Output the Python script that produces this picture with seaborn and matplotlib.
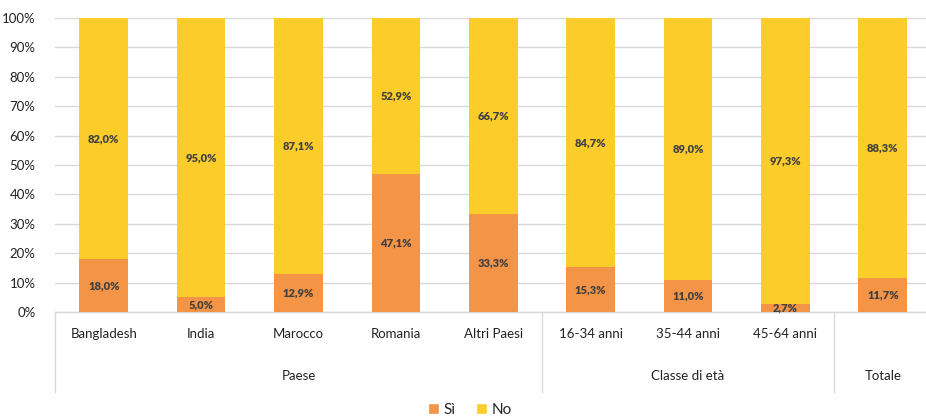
import matplotlib
matplotlib.use("Agg")
import matplotlib.pyplot as plt
import matplotlib.transforms as mtransforms
from matplotlib.patches import Patch
import seaborn as sns
import pandas as pd

categories = ["Bangladesh", "India", "Marocco", "Romania", "Altri Paesi",
              "16-34 anni", "35-44 anni", "45-64 anni", "Totale"]
tick_labels = ["Bangladesh", "India", "Marocco", "Romania", "Altri Paesi",
               "16-34 anni", "35-44 anni", "45-64 anni", ""]
si_values = [18.0, 5.0, 12.9, 47.1, 33.3, 15.3, 11.0, 2.7, 11.7]
no_values = [82.0, 95.0, 87.1, 52.9, 66.7, 84.7, 89.0, 97.3, 88.3]
groups = [("Paese", 0, 4), ("Classe di età", 5, 7), ("Totale", 8, 8)]
y_ticks = [0, 10, 20, 30, 40, 50, 60, 70, 80, 90, 100]

ORANGE = "#F39447"
YELLOW = "#FCCD2A"
TEXT = "#404040"

sns.set_theme(style="white")
plt.rcParams["font.family"] = ["Lato", "DejaVu Sans"]

df = pd.DataFrame({"cat": categories, "si": si_values, "no": no_values})

fig = plt.figure(figsize=(9.26, 4.2), dpi=100)
ax = fig.add_axes([55 / 926, 1 - 312 / 420, (931.5 - 55) / 926, (312 - 18) / 420])

sns.barplot(data=df, x="cat", y="si", color=ORANGE, width=0.5, saturation=1,
            ax=ax, linewidth=0, zorder=3)
sns.barplot(data=df, x="cat", y="no", color=YELLOW, width=0.5, saturation=1,
            ax=ax, linewidth=0, bottom=df["si"].values, zorder=3)

ax.set_ylim(0, 100)
ax.set_xlim(-0.5, len(categories) - 0.5)
ax.set_yticks(y_ticks)
ax.set_yticklabels([f"{t}%" for t in y_ticks], fontsize=9.5, color="#222222")
ax.yaxis.grid(True, color="#D9D9D9", linewidth=1.0, zorder=0)
ax.set_axisbelow(True)
ax.tick_params(axis="y", length=0, pad=14)
ax.tick_params(axis="x", length=0)
ax.set_xticks([])
ax.set_xlabel("")
ax.set_ylabel("")
for side in ["top", "right", "left"]:
    ax.spines[side].set_visible(False)
ax.spines["bottom"].set_color("#D9D9D9")
ax.spines["bottom"].set_linewidth(1.0)

# value labels in the middle of each segment
for i, (s, n) in enumerate(zip(si_values, no_values)):
    ax.text(i, s / 2, f"{s:.1f}%".replace(".", ","), ha="center", va="center",
            fontsize=8, fontweight="heavy", color=TEXT, zorder=5)
    ax.text(i, s + n / 2, f"{n:.1f}%".replace(".", ","), ha="center", va="center",
            fontsize=8, fontweight="heavy", color=TEXT, zorder=5)

# two-level category axis
trans = mtransforms.blended_transform_factory(ax.transData, ax.transAxes)
px = 1 / (312 - 18)
for i, c in enumerate(tick_labels):
    ax.text(i, -22 * px, c, transform=trans, ha="center", va="center",
            fontsize=9.5, color="#222222")
for name, a, b in groups:
    ax.text((a + b) / 2, -64 * px, name, transform=trans, ha="center",
            va="center", fontsize=9.5, color="#222222")
for xb in [-0.5, 4.5, 7.5, 8.5]:
    ax.plot([xb, xb], [0, -80 * px], transform=trans, color="#D9D9D9",
            linewidth=1.0, clip_on=False)

handles = [Patch(facecolor=ORANGE, label="Sì"), Patch(facecolor=YELLOW, label="No")]
fig.legend(handles=handles, loc="center", bbox_to_anchor=(470 / 926, 1 - 410 / 420),
           ncol=2, frameon=False, fontsize=11, handlelength=0.75,
           handleheight=0.75, handletextpad=0.3, columnspacing=1.3)

fig.savefig("out.png", dpi=100)
